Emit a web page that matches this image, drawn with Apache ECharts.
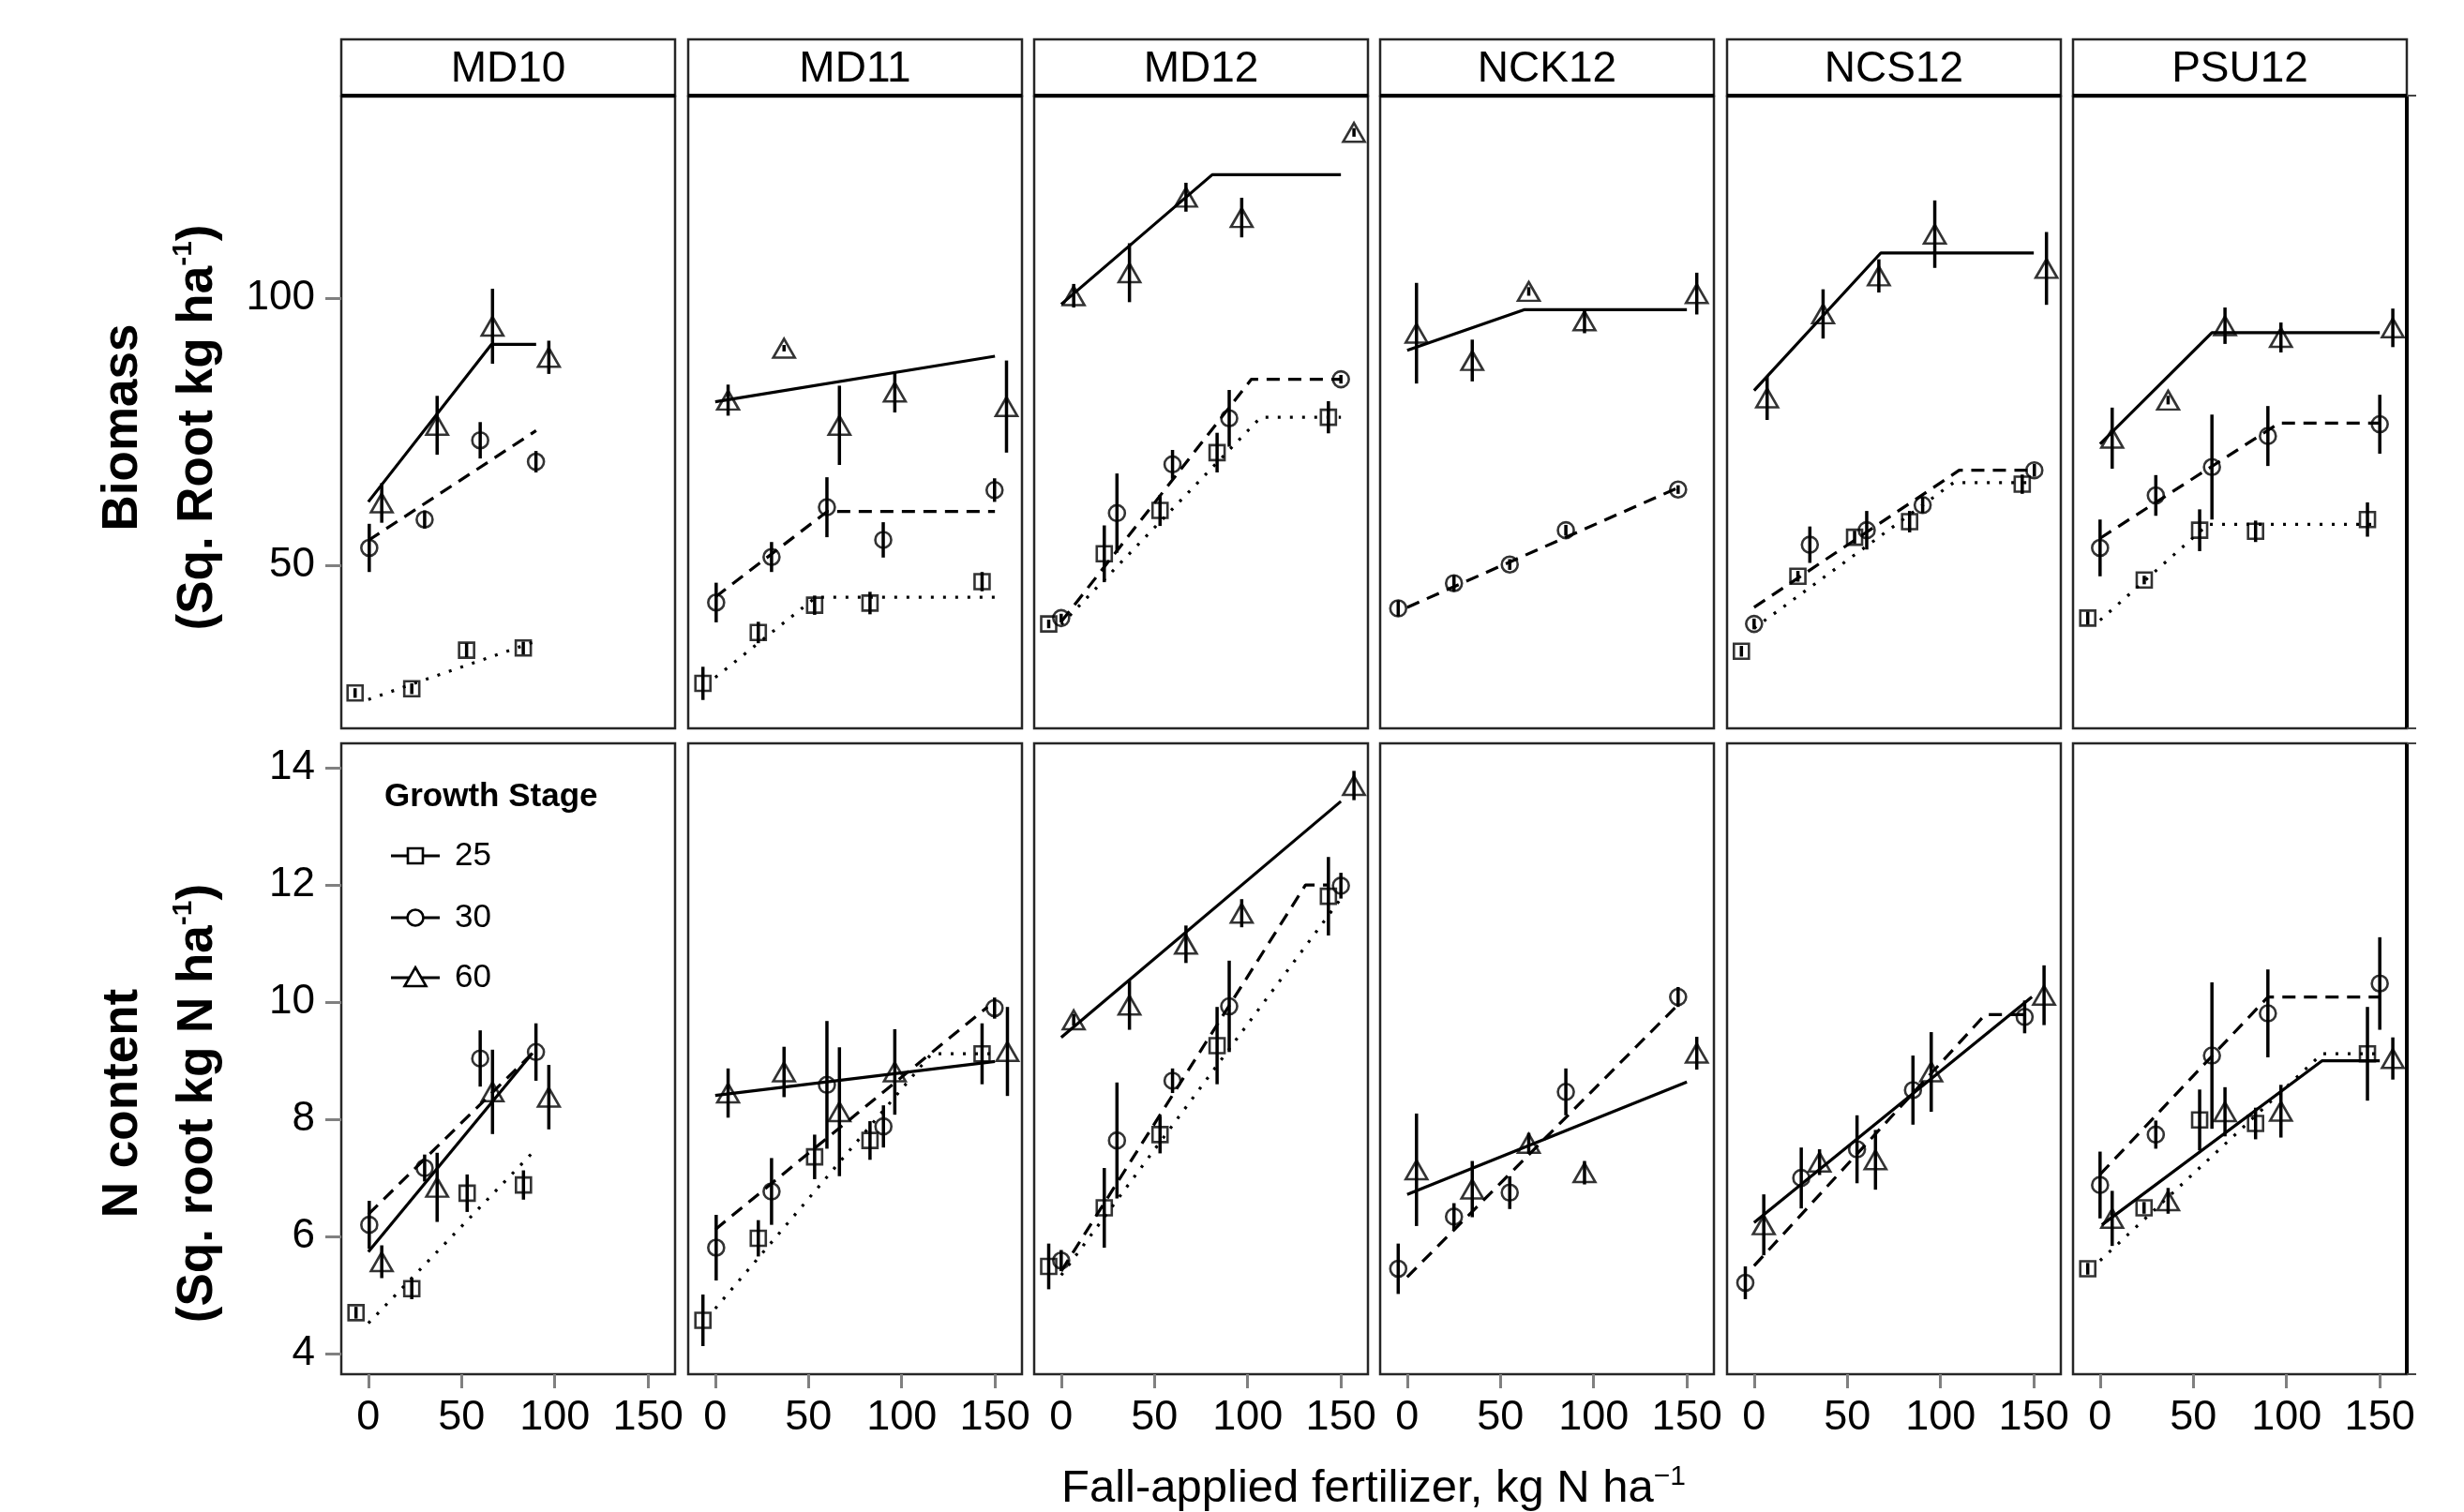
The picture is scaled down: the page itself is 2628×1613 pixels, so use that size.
<!DOCTYPE html>
<html>
<head>
<meta charset="utf-8">
<script src="https://cdn.jsdelivr.net/npm/echarts@6/dist/echarts.min.js"></script>
<style>
    html, body { margin: 0; padding: 0; background: #fff; }
    #chart { width: 2628px; height: 1613px; }
</style>
</head>
<body>
<div id="chart"></div>
<script>
var sites = ['MD10', 'MD11', 'MD12', 'NCK12', 'NCS12', 'PSU12'];
var stages = ['25', '30', '60'];
var xTicks = [0, 50, 100, 150];
var bioTicks = [50, 100];
var nTicks = [4, 6, 8, 10, 12, 14];

// points: [rate (dodged), mean, half error bar], one list per site in "sites" order
var bio25 = [
    [[-7.1, 26.2, 0.9], [23.3, 27.0, 1.0], [52.7, 34.2, 1.3], [83.1, 34.6, 1.2]],
    [[-6.6, 28.0, 3.1], [23.1, 37.5, 2.0], [53.3, 42.6, 1.8], [83, 43.0, 2.1], [143.1, 47.0, 1.8]],
    [[-6.7, 39.1, 0.8], [23.1, 52.2, 5.3], [53, 60.3, 2.9], [83.6, 71.1, 3.7], [143.3, 77.7, 3.0]],
    [],
    [[-6.8, 34.0, 1.0], [23.5, 48.0, 1.0], [53.9, 55.3, 1.2], [83.4, 58.2, 2.0], [143.8, 65.2, 1.8]],
    [[-6.6, 40.2, 1.2], [23.7, 47.3, 0.8], [53.4, 56.6, 3.9], [83.4, 56.4, 2.0], [143.4, 58.6, 3.2]]
];
var bio30 = [
    [[0.5, 53.3, 4.5], [30.2, 58.6, 1.7], [60, 73.4, 3.4], [89.9, 69.4, 2.0]],
    [[0.5, 43.1, 3.7], [30.2, 51.6, 2.8], [59.9, 60.9, 5.6], [90.1, 54.8, 3.3], [149.8, 64.1, 2.2]],
    [[0, 40.2, 0.8], [29.9, 59.8, 7.4], [59.7, 68.9, 2.7], [90.1, 77.5, 5.3], [150, 84.8, 0.8]],
    [[-4.8, 42.0, 1.5], [25.1, 46.7, 1.5], [55, 50.2, 1.0], [85.1, 56.6, 1.0], [145.3, 64.2, 0.8]],
    [[0, 39.1, 1.0], [29.9, 53.9, 3.4], [60.4, 56.6, 3.6], [90.4, 61.3, 1.5], [150.3, 67.8, 1.2]],
    [[0, 53.3, 5.3], [29.9, 63.1, 3.8], [60, 68.4, 9.8], [90, 74.2, 5.6], [150, 76.4, 5.5]]
];
var bio60 = [
    [[7.2, 61.7, 3.7], [36.9, 76.2, 5.5], [66.6, 94.7, 7.0], [96.8, 88.9, 3.1]],
    [[6.9, 80.9, 2.9], [36.9, 90.6, 0.6], [66.6, 76.2, 7.4], [96.3, 82.4, 3.8], [156.2, 79.7, 8.6]],
    [[6.7, 100.4, 2.2], [36.6, 104.7, 5.5], [66.9, 118.8, 2.7], [96.8, 115.0, 3.7], [157, 130.9, 0.8]],
    [[5.0, 93.4, 9.4], [34.9, 88.3, 3.9], [65.2, 101.2, 0.8], [95.1, 95.7, 2.3], [155.3, 100.8, 3.9]],
    [[7.0, 81.3, 4.1], [37, 97.0, 4.6], [66.9, 104.1, 3.1], [96.9, 111.9, 6.3], [156.8, 105.5, 6.8]],
    [[6.5, 73.8, 5.7], [36.5, 80.9, 0.8], [67, 94.8, 3.4], [97, 92.6, 2.8], [157, 94.4, 3.6]]
];
// fitted (linear / linear-plateau) lines
var bioFit25 = [
    [[0, 25.0], [90, 35.9]],
    [[0, 29.1], [54, 44.1], [150, 44.1]],
    [[0, 39.0], [107, 77.7], [150, 77.7]],
    [],
    [[0, 38.3], [107, 65.5], [150, 65.5]],
    [[0, 39.8], [58, 57.7], [150, 57.7]]
];
var bioFit30 = [
    [[0, 54.7], [90, 75.2]],
    [[0, 44.1], [60, 60.1], [150, 60.1]],
    [[0, 39.5], [102, 84.8], [150, 84.8]],
    [[0, 42.2], [145, 64.5]],
    [[0, 42.2], [110, 67.8], [150, 67.8]],
    [[0, 55.1], [96, 76.6], [150, 76.6]]
];
var bioFit60 = [
    [[0, 61.9], [66, 91.3], [90, 91.3]],
    [[0, 80.6], [150, 89.1]],
    [[0, 98.8], [81, 123.0], [150, 123.0]],
    [[0, 90.2], [63, 97.8], [150, 97.8]],
    [[0, 82.7], [68, 108.4], [150, 108.4]],
    [[0, 72.7], [60, 93.5], [150, 93.5]]
];

var n25 = [
    [[-6.6, 4.70, 0.1], [23.3, 5.11, 0.18], [53.0, 6.74, 0.32], [83.2, 6.88, 0.25]],
    [[-6.6, 4.57, 0.44], [23.1, 5.97, 0.31], [53.3, 7.36, 0.38], [83, 7.64, 0.33], [143.1, 9.12, 0.52]],
    [[-6.7, 5.49, 0.39], [23.1, 6.49, 0.68], [53, 7.74, 0.32], [83.6, 9.26, 0.66], [143.3, 11.81, 0.67]],
    [],
    [],
    [[-6.6, 5.45, 0.1], [23.6, 6.49, 0.1], [53.4, 7.99, 0.52], [83.4, 7.93, 0.27], [143.4, 9.12, 0.8]]
];
var n30 = [
    [[0.5, 6.20, 0.41], [30.2, 7.17, 0.23], [60, 9.04, 0.48], [89.9, 9.15, 0.49]],
    [[0.5, 5.81, 0.56], [30.2, 6.77, 0.57], [59.9, 8.59, 1.09], [90.2, 7.88, 0.36], [149.8, 9.90, 0.18]],
    [[0, 5.59, 0.18], [29.9, 7.64, 0.99], [59.7, 8.66, 0.21], [90.1, 9.93, 0.78], [150, 11.99, 0.22]],
    [[-4.8, 5.45, 0.43], [25.1, 6.34, 0.23], [55, 6.75, 0.28], [85.1, 8.47, 0.4], [145.3, 10.09, 0.17]],
    [[-4.7, 5.21, 0.28], [25.3, 7.00, 0.52], [55.2, 7.49, 0.58], [85.2, 8.50, 0.59], [145.1, 9.75, 0.28]],
    [[0, 6.88, 0.57], [29.9, 7.74, 0.24], [60, 9.09, 1.25], [90, 9.81, 0.75], [150, 10.32, 0.79]]
];
var n60 = [
    [[7.2, 5.57, 0.28], [36.9, 6.84, 0.59], [66.6, 8.47, 0.72], [96.8, 8.38, 0.55]],
    [[6.9, 8.45, 0.42], [36.9, 8.81, 0.43], [66.6, 8.13, 1.1], [96.3, 8.81, 0.73], [156.7, 9.16, 0.76]],
    [[6.7, 9.70, 0.1], [36.6, 9.95, 0.42], [66.9, 10.99, 0.32], [96.8, 11.52, 0.24], [157, 13.70, 0.25]],
    [[5.0, 7.14, 0.96], [34.9, 6.81, 0.48], [65.2, 7.59, 0.18], [95.1, 7.09, 0.2], [155.3, 9.13, 0.28]],
    [[5.2, 6.20, 0.52], [35.1, 7.27, 0.22], [65.1, 7.31, 0.51], [95, 8.81, 0.68], [155.5, 10.12, 0.51]],
    [[6.5, 6.31, 0.47], [36.5, 6.61, 0.22], [67, 8.13, 0.42], [97, 8.14, 0.45], [157, 9.04, 0.36]]
];
var nFit25 = [
    [[0, 4.52], [88, 7.43]],
    [[0, 4.77], [116, 9.12], [150, 9.12]],
    [[0, 5.34], [150, 11.77]],
    [],
    [],
    [[0, 5.59], [119, 9.12], [150, 9.12]]
];
var nFit30 = [
    [[0, 6.38], [88, 9.13]],
    [[0, 6.12], [146, 9.92]],
    [[0, 5.41], [131, 12.0], [143, 12.0]],
    [[0, 5.31], [145, 9.95]],
    [[0, 5.50], [124, 9.79], [145, 9.79]],
    [[0, 7.06], [90, 10.09], [150, 10.09]]
];
var nFit60 = [
    [[0, 5.74], [88, 9.13]],
    [[0, 8.41], [150, 8.99]],
    [[0, 9.40], [150, 13.43]],
    [[0, 6.72], [150, 8.64]],
    [[0, 6.24], [149, 10.09]],
    [[1, 6.20], [119, 9.00], [150, 9.00]]
];

var FONT = "'Liberation Sans', Arial, sans-serif";
var panelLeft = [364, 734, 1103, 1472, 1842, 2211];
var panelW = 356;
var rowTop = [103, 793];
var rowH = [674, 673];
var yRange = [[19.6, 137.6], [3.65, 14.42]];

var symbols = { '25': 'rect', '30': 'circle', '60': 'triangle' };
var symbolSizes = { '25': 16, '30': 17, '60': [23, 20] };
var lineTypes = { '25': [3, 10], '30': [14, 9], '60': 'solid' };

var pointSets = [[bio25, bio30, bio60], [n25, n30, n60]];
var fitSets = [[bioFit25, bioFit30, bioFit60], [nFit25, nFit30, nFit60]];

var myChart = echarts.init(document.getElementById('chart'));

function errorBar(params, api) {
    var x = api.value(0);
    var lo = api.coord([x, api.value(1) - api.value(2)]);
    var hi = api.coord([x, api.value(1) + api.value(2)]);
    return {
        type: 'line',
        shape: { x1: lo[0], y1: lo[1], x2: hi[0], y2: hi[1] },
        style: { stroke: '#000', lineWidth: 3.5 }
    };
}

var grids = [], xAxes = [], yAxes = [], series = [], graphics = [];

for (var r = 0; r < 2; r++) {
    for (var p = 0; p < sites.length; p++) {
        var g = r * sites.length + p;
        grids.push({
            left: panelLeft[p], top: rowTop[r], width: panelW, height: rowH[r],
            show: true, borderColor: '#262626', borderWidth: 2.5, backgroundColor: 'transparent'
        });
        xAxes.push({
            gridIndex: g, type: 'value', min: -14.5, max: 164.5, position: 'bottom',
            splitLine: { show: false },
            axisLine: { show: false, onZero: false },
            axisTick: { show: r == 1, length: 15, customValues: xTicks, lineStyle: { color: '#808080', width: 3 } },
            axisLabel: { show: r == 1, customValues: xTicks, fontSize: 45, color: '#000', fontFamily: FONT, margin: 24 }
        });
        yAxes.push({
            gridIndex: g, type: 'value', min: yRange[r][0], max: yRange[r][1], position: 'left',
            splitLine: { show: false },
            axisLine: { show: false, onZero: false },
            axisTick: { show: p == 0, length: 17, customValues: r == 0 ? bioTicks : nTicks, lineStyle: { color: '#808080', width: 3 } },
            axisLabel: { show: p == 0, customValues: r == 0 ? bioTicks : nTicks, fontSize: 44, color: '#000', fontFamily: FONT, margin: 28 }
        });

        for (var s = 0; s < stages.length; s++) {
            var st = stages[s];
            var fit = fitSets[r][s][p];
            var pts = pointSets[r][s][p];
            if (fit.length) {
                series.push({
                    type: 'line', xAxisIndex: g, yAxisIndex: g, data: fit,
                    symbol: 'none', silent: true, z: 2,
                    lineStyle: { color: '#000', width: 3.2, type: lineTypes[st], cap: 'butt' }
                });
            }
            if (pts.length) {
                series.push({
                    type: 'scatter', name: st, xAxisIndex: g, yAxisIndex: g, data: pts,
                    symbol: symbols[st], symbolSize: symbolSizes[st], z: 3,
                    itemStyle: { color: 'rgba(255,255,255,0)', borderColor: '#000', borderWidth: 2.6 }
                });
                series.push({
                    type: 'custom', xAxisIndex: g, yAxisIndex: g, data: pts,
                    renderItem: errorBar, encode: { x: 0, y: 1 }, z: 4, silent: true
                });
            }
        }
    }
}

// facet strips
for (var p = 0; p < sites.length; p++) {
    graphics.push({
        type: 'rect', shape: { x: panelLeft[p], y: 42, width: panelW, height: 60 },
        style: { fill: '#fff', stroke: '#262626', lineWidth: 2.5 }
    });
    graphics.push({
        type: 'line', shape: { x1: panelLeft[p], y1: 102, x2: panelLeft[p] + panelW, y2: 102 },
        style: { stroke: '#000', lineWidth: 4 }
    });
    graphics.push({
        type: 'text', x: panelLeft[p] + panelW / 2, y: 74,
        style: { text: sites[p], font: '46px ' + FONT, fill: '#000', textAlign: 'center', textVerticalAlign: 'middle' }
    });
}

// heavier right edge of the last column, with short stubs
var rightX = panelLeft[5] + panelW;
[[103, 777], [793, 1466]].forEach(function (seg) {
    graphics.push({ type: 'line', shape: { x1: rightX, y1: seg[0], x2: rightX, y2: seg[1] }, style: { stroke: '#000', lineWidth: 4 } });
});
[102, 777, 793, 1466].forEach(function (yy) {
    graphics.push({ type: 'line', shape: { x1: rightX, y1: yy, x2: rightX + 10, y2: yy }, style: { stroke: '#444', lineWidth: 2 } });
});

// axis titles
var richBold = {
    b: { fontSize: 53, fontWeight: 'bold', fontFamily: FONT, lineHeight: 60 },
    sup: { fontSize: 30, fontWeight: 'bold', fontFamily: FONT, verticalAlign: 'top', lineHeight: 60 }
};
function yTitle(x, y, txt) {
    graphics.push({
        type: 'text', x: x, y: y, rotation: Math.PI / 2,
        style: { text: txt, rich: richBold, fill: '#000', textAlign: 'center', textVerticalAlign: 'middle' }
    });
}
yTitle(131, 456, '{b|Biomass}');
yTitle(211, 456, '{b|(Sq. Root kg ha}{sup|-1}{b|)}');
yTitle(131, 1177, '{b|N content}');
yTitle(211, 1177, '{b|(Sq. root kg N ha}{sup|-1}{b|)}');

graphics.push({
    type: 'text', x: 1465, y: 1588,
    style: {
        text: '{a|Fall-applied fertilizer, kg N ha}{s|\u22121}',
        rich: {
            a: { fontSize: 49, fontFamily: FONT, lineHeight: 54 },
            s: { fontSize: 30, fontFamily: FONT, verticalAlign: 'top', lineHeight: 54 }
        },
        fill: '#000', textAlign: 'center', textVerticalAlign: 'middle'
    }
});

// legend inside MD10 N content panel
graphics.push({
    type: 'text', x: 410, y: 850,
    style: { text: 'Growth Stage', font: 'bold 35px ' + FONT, fill: '#000', textAlign: 'left', textVerticalAlign: 'middle' }
});
var legendY = [913, 979, 1043];
for (var s = 0; s < stages.length; s++) {
    var ly = legendY[s];
    graphics.push({
        type: 'line', shape: { x1: 417, y1: ly, x2: 469, y2: ly },
        style: { stroke: '#000', lineWidth: 3 }
    });
    var mark;
    if (s == 0) {
        mark = { type: 'rect', shape: { x: 435, y: ly - 8, width: 16, height: 16 } };
    } else if (s == 1) {
        mark = { type: 'circle', shape: { cx: 443, cy: ly, r: 8.5 } };
    } else {
        mark = { type: 'polygon', shape: { points: [[443, ly - 11], [454.5, ly + 9], [431.5, ly + 9]] } };
    }
    mark.style = { fill: '#fff', stroke: '#000', lineWidth: 2.6 };
    graphics.push(mark);
    graphics.push({
        type: 'text', x: 485, y: ly,
        style: { text: stages[s], font: '35px ' + FONT, fill: '#000', textAlign: 'left', textVerticalAlign: 'middle' }
    });
}

myChart.setOption({
    animation: false,
    backgroundColor: '#fff',
    grid: grids,
    xAxis: xAxes,
    yAxis: yAxes,
    series: series,
    graphic: graphics
});
</script>
</body>
</html>
